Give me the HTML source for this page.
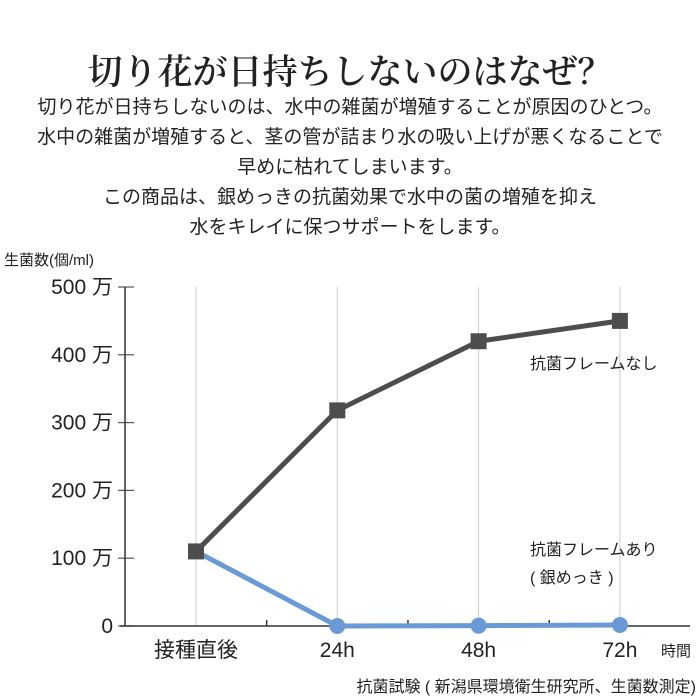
<!DOCTYPE html>
<html><head><meta charset="utf-8"><style>
body{margin:0;background:#fff;width:700px;height:700px;overflow:hidden;font-family:"Liberation Sans","Noto Sans CJK JP",sans-serif;color:#222}
.t{position:absolute;left:0;width:700px;text-align:center}
</style></head><body>
<div class="t" style="top:45px;font-size:35px;font-family:'Liberation Serif','Noto Serif CJK SC',serif;color:#222;font-weight:600">切り花が日持ちしないのはなぜ？</div>
<div class="t" style="top:93px;font-size:19px;line-height:30px;color:#222">切り花が日持ちしないのは、水中の雑菌が増殖することが原因のひとつ。<br>水中の雑菌が増殖すると、茎の管が詰まり水の吸い上げが悪くなることで<br>早めに枯れてしまいます。<br>この商品は、銀めっきの抗菌効果で水中の菌の増殖を抑え<br>水をキレイに保つサポートをします。</div>
<svg id="c" width="700" height="700" style="position:absolute;left:0;top:0"></svg>
<script>
const categories=["接種直後","24h","48h","72h"];
const noFrame=[110,318,420,450];
const withFrame=[110,0,0.5,1.5];
const yTicks=[0,100,200,300,400,500];
const yTickLabels=["0","100 万","200 万","300 万","400 万","500 万"];
const svg=document.getElementById('c');
const NS="http://www.w3.org/2000/svg";
const x0=196,dx=141.3,y0=626,ppu=(626-287)/500;
const X=i=>x0+i*dx, Y=v=>y0-v*ppu;
function el(t,a,p){const e=document.createElementNS(NS,t);for(const k in a)e.setAttribute(k,a[k]);(p||svg).appendChild(e);return e;}
categories.forEach((c,i)=>{
 const g=el('line',{x1:X(i),x2:X(i),y1:Y(500),y2:y0,stroke:'#ccc','stroke-width':1});
 
 
 const t=el('text',{x:X(i),y:657,'text-anchor':'middle','font-size':21,fill:'#222'});t.textContent=c;
 
 
 if(i<categories.length-1){const m=el('line',{x1:X(i)+dx/2,x2:X(i)+dx/2,y1:y0-6,y2:y0,stroke:'#333','stroke-width':1.5});
 
 }
});
yTicks.forEach((v,i)=>{
 const tk=el('line',{x1:118,x2:134,y1:Y(v),y2:Y(v),stroke:'#555','stroke-width':1.2});
 
 
 const t=el('text',{x:113,y:Y(v)+7,'text-anchor':'end','font-size':21,fill:'#222'});t.textContent=yTickLabels[i];
 
 
});
const ya=el('line',{x1:125,x2:125,y1:Y(500),y2:y0,stroke:'#333','stroke-width':1.5});


const xa=el('line',{x1:120,x2:690,y1:y0,y2:y0,stroke:'#333','stroke-width':1.5});


const pb=el('polyline',{points:withFrame.map((v,i)=>X(i)+','+Y(v)).join(' '),fill:'none',stroke:'#6a9ad6','stroke-width':5});


withFrame.forEach((v,i)=>{if(i>0){const c=el('circle',{cx:X(i),cy:Y(v),r:8,fill:'#6a9ad6'});
 
 }});
const pg=el('polyline',{points:noFrame.map((v,i)=>X(i)+','+Y(v)).join(' '),fill:'none',stroke:'#4d4d4d','stroke-width':5});


noFrame.forEach((v,i)=>{const r=el('rect',{x:X(i)-8,y:Y(v)-8,width:16,height:16,fill:'#4d4d4d'});
 
 });
function txt(s,x,y,fs,name,anchor){const t=el('text',{x:x,y:y,'font-size':fs,fill:'#222','text-anchor':anchor||'start'});t.textContent=s;
 
 }
txt('生菌数(個/ml)',4,265,15,'y-axis-title');
txt('抗菌フレームなし',530,369,16,'label-no-frame');
txt('抗菌フレームあり',530,555,16,'label-with-frame');
txt('( 銀めっき )',530,583,16,'label-with-frame-sub');
txt('時間',661,656,15,'x-axis-title');
txt('抗菌試験 ( 新潟県環境衛生研究所、生菌数測定)',696,692,16,'source-note','end');
</script>
</body></html>
